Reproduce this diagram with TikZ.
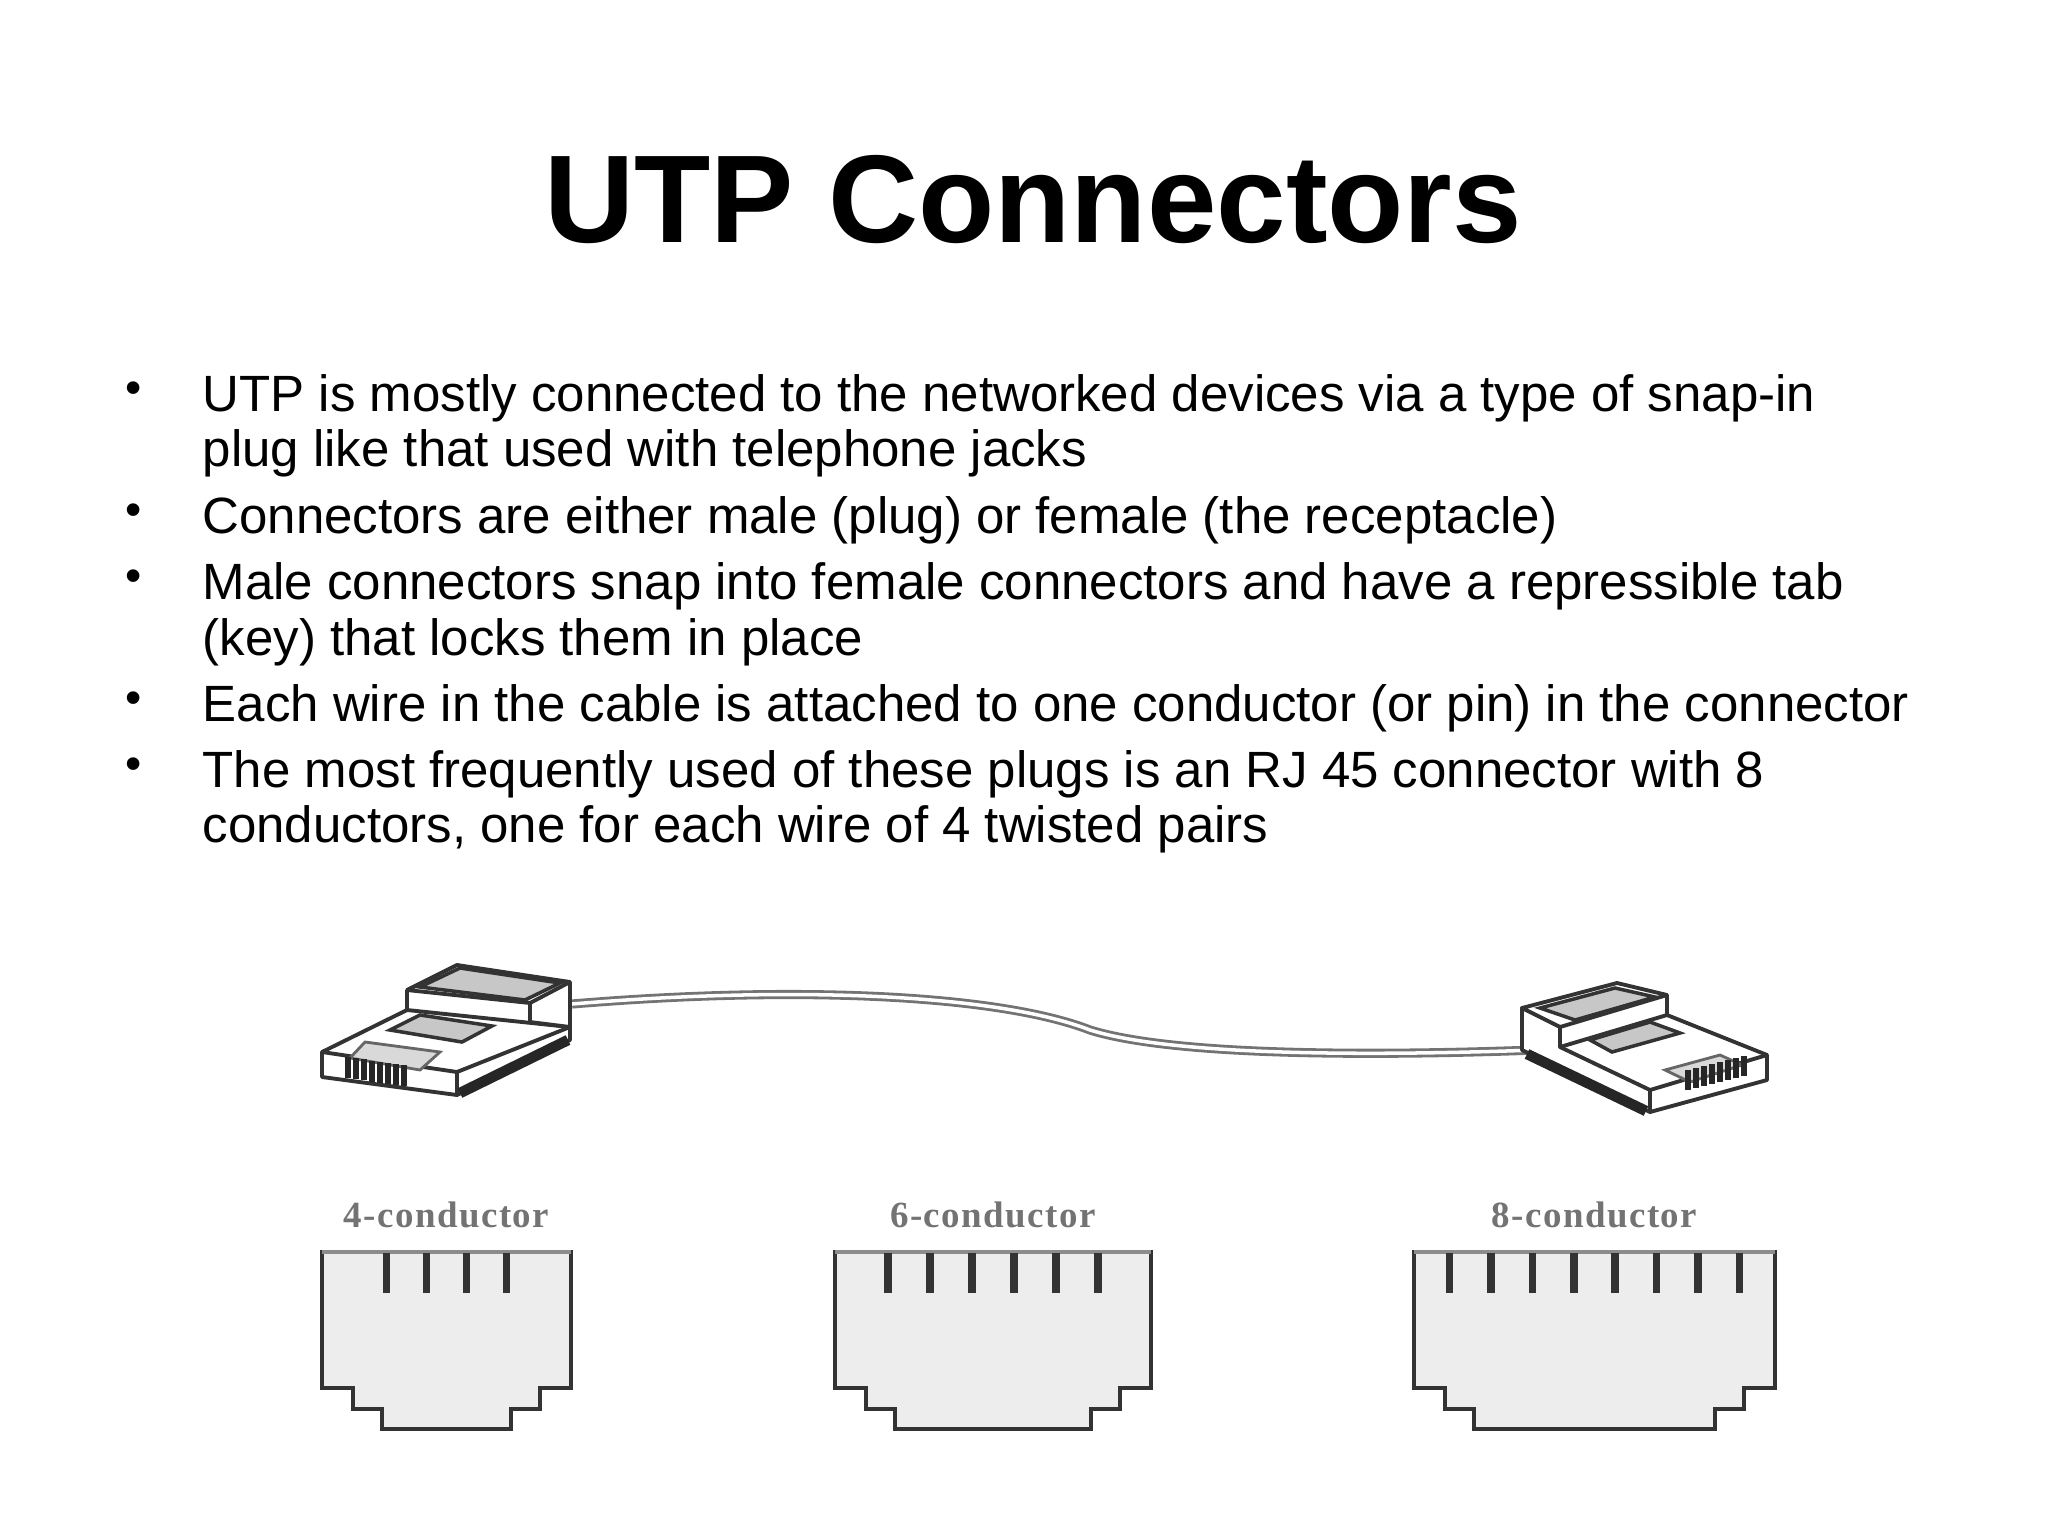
\documentclass[tikz,border=0pt]{standalone}
\usepackage{fontspec}
\setmainfont{Liberation Sans}
\newfontfamily\serifjack[LetterSpace=4]{Liberation Serif}
\begin{document}
\begin{tikzpicture}[x=0.01cm,y=-0.01cm,
  line/.style={anchor=base west,inner sep=0pt,font=\fontsize{14.5pt}{17pt}\selectfont},
  bul/.style={anchor=base west,inner sep=0pt,font=\fontsize{13.2pt}{16pt}\selectfont},
  jack/.style={draw=black!80,line width=1.4pt,fill=black!7},
  pin/.style={draw=black!80,line width=2.2pt},
  jlabel/.style={font=\serifjack\bfseries\fontsize{10.5pt}{12pt}\selectfont,text=black!55},
  plug/.style={draw=black!80,line width=1.1pt,fill=white,line join=round},
  panel/.style={draw=black!80,line width=1pt,fill=black!22}]
\useasboundingbox (0,0) rectangle (2048,1536);
\node[anchor=base,inner sep=0pt,font=\bfseries\fontsize{35.5pt}{40pt}\selectfont] (title) at (1033,242) {UTP Connectors};
\foreach \yy in {411,533,599,721,787} \node[bul] at (125,\yy-8) {•};
\node[line] (l1) at (202,411) {UTP is mostly connected to the networked devices via a type of snap-in};
\node[line] (l2) at (202,466) {plug like that used with telephone jacks};
\node[line] (l3) at (202,533) {Connectors are either male (plug) or female (the receptacle)};
\node[line] (l4) at (202,599) {Male connectors snap into female connectors and have a repressible tab};
\node[line] (l5) at (202,655) {(key) that locks them in place};
\node[line] (l6) at (202,721) {Each wire in the cable is attached to one conductor (or pin) in the connector};
\node[line] (l7) at (202,787) {The most frequently used of these plugs is an RJ 45 connector with 8};
\node[line] (l8) at (202,842) {conductors, one for each wire of 4 twisted pairs};
% cable
\draw[black!55,line width=2.6pt] (572,1004) .. controls (800,985) and (1000,995) .. (1090,1030) .. controls (1180,1058) and (1400,1055) .. (1535,1050);
\draw[white,line width=1pt] (572,1004) .. controls (800,985) and (1000,995) .. (1090,1030) .. controls (1180,1058) and (1400,1055) .. (1535,1050);
% left plug
\draw[plug] (322,1052) -- (407,1010) -- (570,1027) -- (570,1040) -- (457,1095) -- (322,1077) -- cycle;
\draw[plug] (322,1052) -- (457,1072) -- (570,1027);
\draw[plug] (457,1072) -- (457,1095);
\draw[black!85,line width=3pt] (460,1093) -- (568,1040);
\draw[plug] (407,990) -- (457,965) -- (570,982) -- (570,1027) -- (530,1022) -- (530,1003) -- cycle;
\draw[plug] (530,1003) -- (570,982);
\draw[plug] (407,990) -- (407,1012);
\draw[panel] (420,987) -- (460,968) -- (560,983) -- (525,1000) -- cycle;
\draw[panel] (390,1030) -- (420,1015) -- (492,1026) -- (462,1042) -- cycle;
\draw[black!60,line width=0.8pt,fill=black!15] (350,1058) -- (365,1042) -- (440,1052) -- (420,1070) -- cycle;
\foreach \i in {0,...,7} \draw[black!85,line width=1.6pt] (348+\i*8,1057+\i*1.2) -- (348+\i*8,1078+\i*1.2);
% right plug
\draw[plug] (1522,1008) -- (1522,1050) -- (1650,1112) -- (1767,1080) -- (1767,1055) -- (1667,1015) -- cycle;
\draw[plug] (1560,1047) -- (1650,1090) -- (1767,1055);
\draw[plug] (1650,1090) -- (1650,1112);
\draw[black!85,line width=3pt] (1527,1054) -- (1646,1111);
\draw[plug] (1522,1008) -- (1617,983) -- (1667,995) -- (1667,1015) -- (1560,1047) -- (1560,1027) -- cycle;
\draw[plug] (1560,1027) -- (1667,995);
\draw[panel] (1540,1008) -- (1615,988) -- (1655,997) -- (1575,1020) -- cycle;
\draw[panel] (1590,1040) -- (1650,1022) -- (1680,1033) -- (1612,1052) -- cycle;
\draw[black!60,line width=0.8pt,fill=black!15] (1665,1070) -- (1720,1055) -- (1742,1065) -- (1690,1082) -- cycle;
\foreach \i in {0,...,7} \draw[black!85,line width=1.6pt] (1688+\i*8,1090-\i*2) -- (1688+\i*8,1070-\i*2);
% jacks
\foreach \L/\R/\n/\s/\txt/\nm in {322/571/4/40/4-conductor/a, 835/1151/6/42/6-conductor/b, 1414/1775/8/41.4/8-conductor/c}{
  \pgfmathsetmacro\mid{(\L+\R)/2}
  \draw[jack] (\L,1252) -- (\L,1388) -- (\L+31,1388) -- (\L+31,1409) -- (\L+60,1409) -- (\L+60,1429)
     -- (\R-60,1429) -- (\R-60,1409) -- (\R-31,1409) -- (\R-31,1388) -- (\R,1388) -- (\R,1252) -- cycle;
  \draw[black!45,line width=1.4pt] (\L,1252) -- (\R,1252);
  \foreach \k in {1,...,\n} \draw[pin] (\mid+\k*\s-\n*\s/2-\s/2,1253) -- (\mid+\k*\s-\n*\s/2-\s/2,1293);
  \node[jlabel] (\nm) at (\mid,1215) {\txt};
}
\end{tikzpicture}
\end{document}
